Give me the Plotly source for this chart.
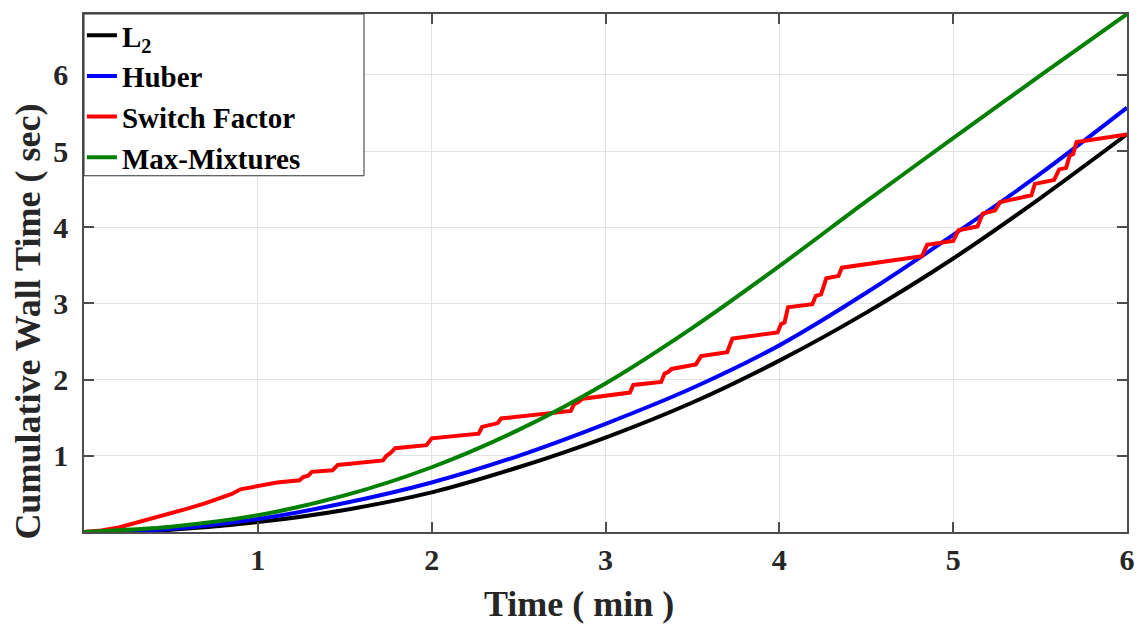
import plotly.graph_objects as go

# Smooth curves sampled at these times (min)
t_smooth = [0, 0.5, 1, 1.5, 2, 2.5, 3, 3.5, 4, 4.5, 5, 5.5, 6]
l2_vals = [0, 0.03, 0.13, 0.29, 0.52, 0.85, 1.24, 1.70, 2.25, 2.88, 3.59, 4.38, 5.22]
huber_vals = [0, 0.04, 0.17, 0.38, 0.65, 1.0, 1.42, 1.89, 2.45, 3.14, 3.90, 4.70, 5.57]
maxmix_vals = [0, 0.07, 0.22, 0.48, 0.85, 1.34, 1.95, 2.68, 3.49, 4.34, 5.17, 5.99, 6.8]

# Switch Factor (step-like)
sf_t = [0, 0.1, 0.2, 0.3, 0.4, 0.5, 0.6, 0.7, 0.75, 0.8, 0.85, 0.9, 0.95, 1.0,
        1.11, 1.24, 1.26, 1.29, 1.31, 1.43, 1.46, 1.72, 1.74, 1.76, 1.79, 1.97, 2.0,
        2.27, 2.29, 2.38, 2.40, 2.80, 2.82, 2.84, 2.87, 3.14, 3.16, 3.32, 3.34, 3.36,
        3.38, 3.52, 3.55, 3.70, 3.73, 3.99, 4.01, 4.03, 4.05, 4.19, 4.21, 4.24, 4.27,
        4.34, 4.36, 4.82, 4.85, 5.0, 5.03, 5.14, 5.17, 5.24, 5.27, 5.45, 5.47, 5.58,
        5.61, 5.65, 5.67, 5.69, 5.71, 6.0]
sf_vals = [0, 0.02, 0.06, 0.12, 0.19, 0.25, 0.31, 0.38, 0.42, 0.45, 0.50, 0.56, 0.58, 0.60,
           0.65, 0.68, 0.72, 0.74, 0.79, 0.81, 0.88, 0.94, 1.0, 1.03, 1.10, 1.14, 1.23,
           1.29, 1.38, 1.43, 1.49, 1.59, 1.68, 1.70, 1.75, 1.83, 1.93, 1.97, 2.08, 2.10,
           2.14, 2.20, 2.31, 2.36, 2.54, 2.62, 2.73, 2.75, 2.95, 2.99, 3.10, 3.12, 3.33,
           3.36, 3.47, 3.62, 3.77, 3.82, 3.96, 4.01, 4.18, 4.22, 4.33, 4.42, 4.57, 4.62,
           4.76, 4.78, 4.94, 4.96, 5.12, 5.22]

x_ticks = [1, 2, 3, 4, 5, 6]
y_ticks = [1, 2, 3, 4, 5, 6]

FONT = "Liberation Serif"
LW = 4
W, H = 1139, 630
ML, MR, MT, MB = 84, 12, 10, 98
PW = W - ML - MR
PH = H - MT - MB


def px_to_paper_x(px):
    return (px - ML) / PW


def px_to_paper_y(py):
    return (H - MB - py) / PH


fig = go.Figure()
fig.add_trace(go.Scatter(x=t_smooth, y=l2_vals, mode="lines", name="L<sub>2</sub>",
                         line=dict(color="#000000", width=LW, shape="spline", smoothing=0.8)))
fig.add_trace(go.Scatter(x=t_smooth, y=huber_vals, mode="lines", name="Huber",
                         line=dict(color="#0000ff", width=LW, shape="spline", smoothing=0.8)))
fig.add_trace(go.Scatter(x=sf_t, y=sf_vals, mode="lines", name="Switch Factor",
                         line=dict(color="#ff0000", width=LW)))
fig.add_trace(go.Scatter(x=t_smooth, y=maxmix_vals, mode="lines", name="Max-Mixtures",
                         line=dict(color="#008000", width=LW, shape="spline", smoothing=0.8)))

axis_common = dict(
    showgrid=True, gridcolor="#e3e3e3", gridwidth=1,
    showline=True, linecolor="#4d4d4d", linewidth=1.5, mirror="ticks",
    ticks="inside", ticklen=10, tickcolor="#4d4d4d", tickwidth=1.5,
    zeroline=False, automargin=False,
    tickfont=dict(family=FONT, size=30, color="#262626", weight="bold"),
)

title_font = dict(family=FONT, size=36, color="#262626", weight="bold")

fig.update_layout(
    width=W, height=H,
    margin=dict(l=ML, r=MR, t=MT, b=MB),
    paper_bgcolor="white", plot_bgcolor="white",
    xaxis=dict(range=[0, 6], tickvals=x_ticks, ticktext=[str(v) for v in x_ticks],
               **axis_common),
    yaxis=dict(range=[0, 6.8], tickvals=y_ticks, ticktext=[str(v) for v in y_ticks],
               ticklabelstandoff=8, **axis_common),
    legend=dict(x=-0.002, y=1.008, xanchor="left", yanchor="top",
                bgcolor="rgba(0,0,0,0)", borderwidth=0,
                font=dict(family=FONT, size=29, color="#000000", weight="bold"),
                itemwidth=30, tracegroupgap=0),
    showlegend=True,
    annotations=[
        dict(text="Time ( min )", xref="paper", yref="paper",
             x=px_to_paper_x(579), y=px_to_paper_y(605),
             xanchor="center", yanchor="middle", showarrow=False, font=title_font),
        dict(text="Cumulative Wall Time ( sec)", xref="paper", yref="paper",
             x=px_to_paper_x(28), y=px_to_paper_y(320), textangle=-90,
             xanchor="center", yanchor="middle", showarrow=False, font=title_font),
    ],
    shapes=[
        dict(type="rect", xref="paper", yref="paper", layer="above",
             x0=0, x1=px_to_paper_x(364), y0=1, y1=px_to_paper_y(173),
             fillcolor="white", line=dict(color="#333333", width=1)),
    ],
)

fig.write_html("out.html", config={"displayModeBar": False},
               post_script="document.body.style.margin='0';document.body.style.padding='0';")
